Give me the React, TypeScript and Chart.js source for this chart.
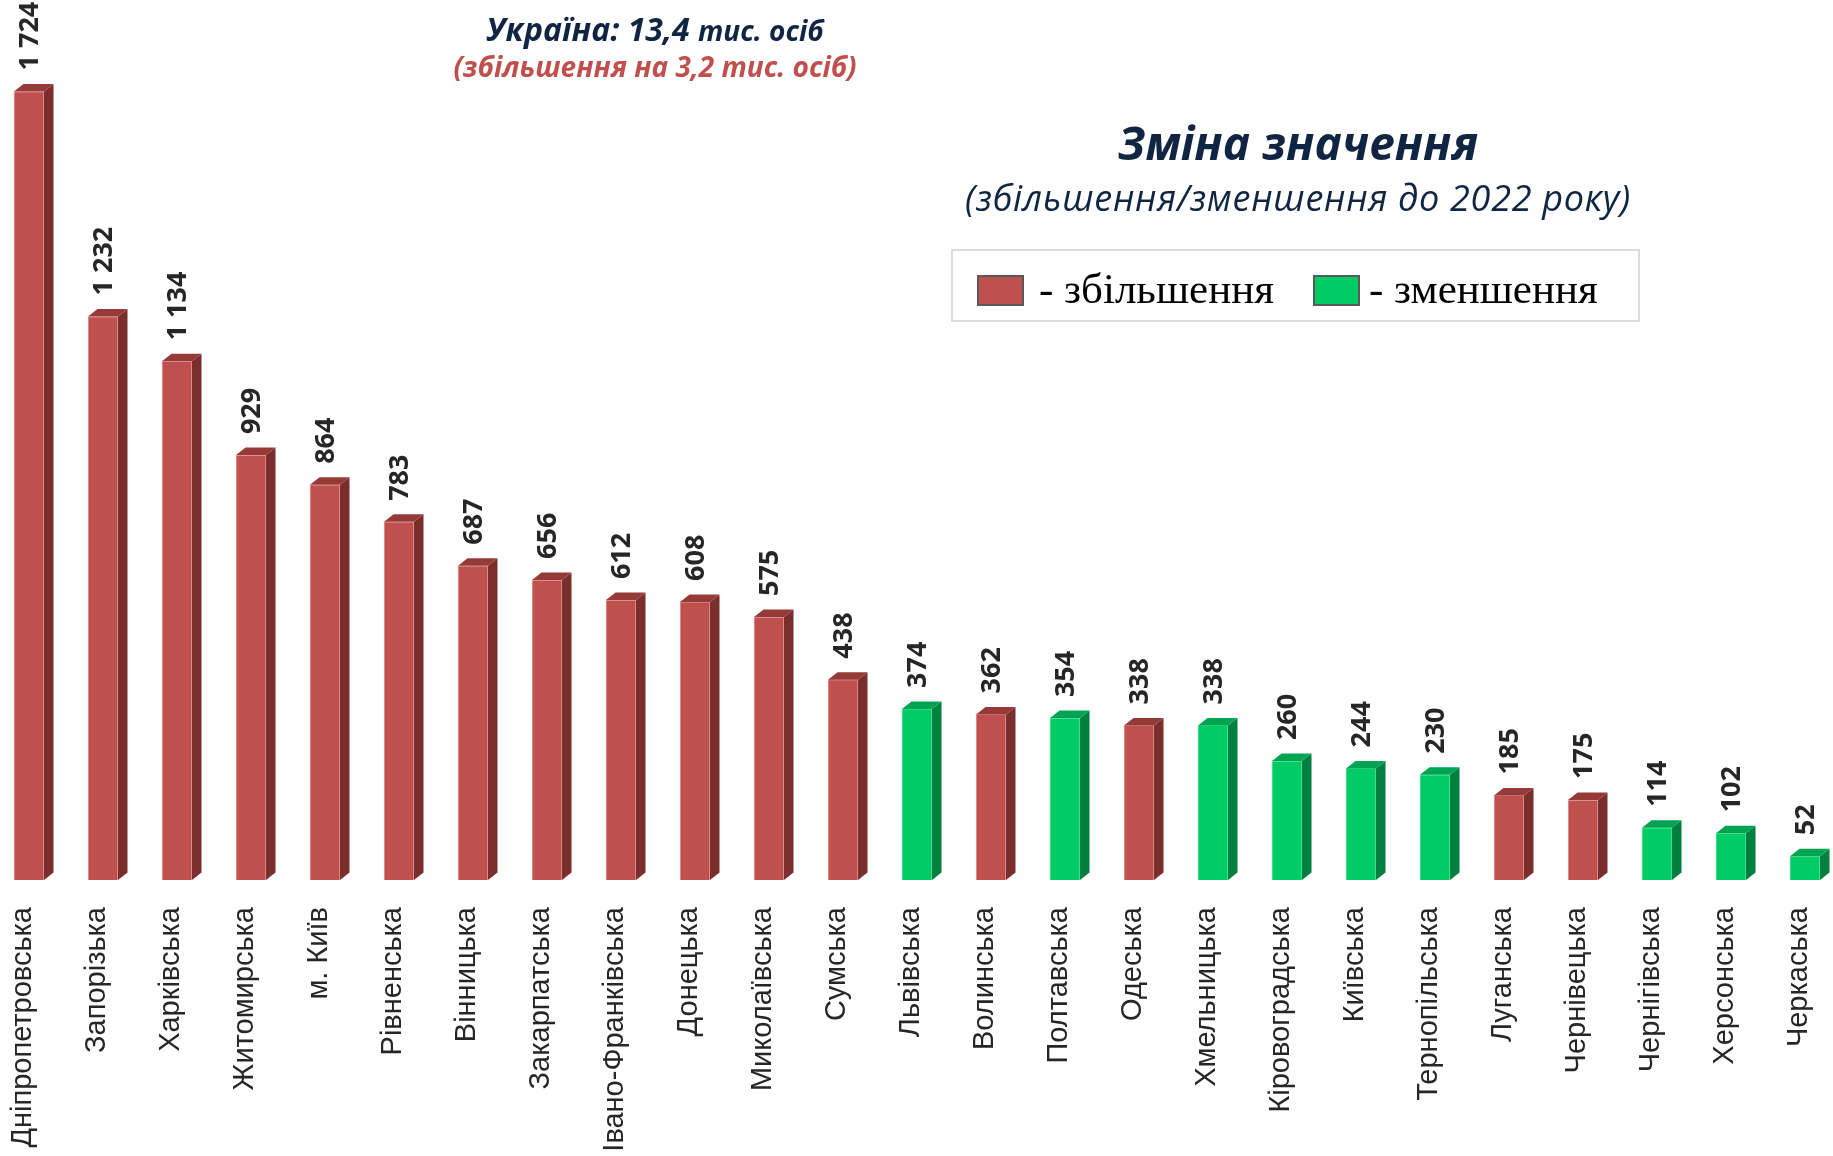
import React, { useEffect, useRef } from 'react';
import { Chart, registerables } from 'chart.js';

Chart.register(...registerables);

const categories = [
  'Дніпропетровська', 'Запорізька', 'Харківська', 'Житомирська', 'м. Київ',
  'Рівненська', 'Вінницька', 'Закарпатська', 'Івано-Франківська', 'Донецька',
  'Миколаївська', 'Сумська', 'Львівська', 'Волинська', 'Полтавська',
  'Одеська', 'Хмельницька', 'Кіровоградська', 'Київська', 'Тернопільська',
  'Луганська', 'Чернівецька', 'Чернігівська', 'Херсонська', 'Черкаська',
];

const values = [
  1724, 1232, 1134, 929, 864,
  783, 687, 656, 612, 608,
  575, 438, 374, 362, 354,
  338, 338, 260, 244, 230,
  185, 175, 114, 102, 52,
];

// 'up' = збільшення, 'down' = зменшення
const directions = [
  'up', 'up', 'up', 'up', 'up',
  'up', 'up', 'up', 'up', 'up',
  'up', 'up', 'down', 'up', 'down',
  'up', 'down', 'down', 'down', 'down',
  'up', 'up', 'down', 'down', 'down',
];

const W = 1833;
const H = 1156;
const PLOT_BOTTOM = 880;

const FRONT: Record<string, string> = { up: '#C0504D', down: '#00CC66' };
const SIDE: Record<string, string> = { up: '#7B2E2D', down: '#00803F' };
const CAP: Record<string, string> = { up: '#963A38', down: '#00A351' };
const EDGE: Record<string, string> = { up: '#E2A7A5', down: '#66E3A3' };

function fmt(v: number): string {
  const s = String(v);
  return s.length > 3 ? s.slice(0, -3) + ' ' + s.slice(-3) : s;
}

const bar3d = {
  id: 'bar3d',
  afterDatasetsDraw(chart: any) {
    const ctx = chart.ctx;
    const meta = chart.getDatasetMeta(0);
    const d = 9.5;
    const dy = 7.5;
    meta.data.forEach((el: any, i: number) => {
      const { x, y, base, width } = el.getProps(['x', 'y', 'base', 'width'], true);
      const L = x - width / 2;
      const R = x + width / 2;
      const dir = directions[i];
      ctx.save();
      ctx.fillStyle = SIDE[dir];
      ctx.beginPath();
      ctx.moveTo(R, y);
      ctx.lineTo(R + d, y - dy);
      ctx.lineTo(R + d, base - dy);
      ctx.lineTo(R, base);
      ctx.closePath();
      ctx.fill();
      ctx.fillStyle = CAP[dir];
      ctx.beginPath();
      ctx.moveTo(L, y);
      ctx.lineTo(L + d, y - dy);
      ctx.lineTo(R + d, y - dy);
      ctx.lineTo(R, y);
      ctx.closePath();
      ctx.fill();
      ctx.translate(x + 1, y - 21);
      ctx.rotate(-Math.PI / 2);
      ctx.font = 'bold 27px "Open Sans"';
      ctx.fillStyle = '#262626';
      ctx.textAlign = 'left';
      ctx.textBaseline = 'middle';
      ctx.fillText(fmt(values[i]), 0, 0);
      ctx.restore();
    });
  },
};

const NAVY = '#0F2542';

export default function App() {
  const ref = useRef<HTMLCanvasElement>(null);

  useEffect(() => {
    if (!ref.current) return;
    const chart = new Chart(ref.current, {
      type: 'bar',
      data: {
        labels: categories,
        datasets: [
          {
            data: values,
            backgroundColor: directions.map((d) => FRONT[d]),
            borderColor: directions.map((d) => EDGE[d]),
            borderWidth: 1,
            barThickness: 30,
            clip: false as any,
          },
        ],
      },
      options: {
        responsive: false,
        animation: false,
        layout: { padding: { left: 29, right: 28, top: 0, bottom: 0 } },
        plugins: {
          legend: { display: false },
          tooltip: { enabled: false },
        },
        scales: {
          x: {
            offset: false,
            grid: { display: false, drawTicks: false },
            border: { display: false },
            ticks: {
              autoSkip: false,
              minRotation: 90,
              maxRotation: 90,
              padding: 27,
              labelOffset: -6,
              color: '#262626',
              font: { family: 'Liberation Sans', size: 29 },
            },
            afterFit: (s: any) => {
              s.height = H - PLOT_BOTTOM;
              s.paddingLeft = 0;
              s.paddingRight = 0;
            },
          },
          y: { display: false, min: 0, max: 1924 },
        },
      },
      plugins: [bar3d],
    });
    return () => chart.destroy();
  }, []);

  const abs = (o: React.CSSProperties): React.CSSProperties => ({ position: 'absolute', whiteSpace: 'nowrap', ...o });

  return (
    <div style={{ position: 'fixed', left: 0, top: 0, width: W, height: H, background: '#fff', overflow: 'hidden' }}>
      <canvas ref={ref} width={W} height={H} style={{ position: 'absolute', left: 0, top: 0, width: W, height: H }} />
      <div style={abs({ left: 655, top: 13, transform: 'translateX(-50%)', fontFamily: '"Open Sans"', fontStyle: 'italic', fontWeight: 700, fontSize: 32, lineHeight: 1, color: NAVY })}>
        Україна: 13,4 <span style={{ fontSize: 28 }}>тис. осіб</span>
      </div>
      <div style={abs({ left: 655, top: 52, transform: 'translateX(-50%)', fontFamily: '"Open Sans"', fontStyle: 'italic', fontWeight: 700, fontSize: 28, lineHeight: 1, color: '#C0504D' })}>
        (збільшення на 3,2 тис. осіб)
      </div>
      <div style={abs({ left: 1298, top: 119, transform: 'translateX(-50%)', fontFamily: '"Open Sans"', fontStyle: 'italic', fontWeight: 700, fontSize: 46, lineHeight: 1, color: NAVY })}>
        Зміна значення
      </div>
      <div style={abs({ left: 1298, top: 180, transform: 'translateX(-50%)', fontFamily: '"Open Sans"', fontStyle: 'italic', fontWeight: 400, fontSize: 36, letterSpacing: 0.7, lineHeight: 1, color: NAVY })}>
        (збільшення/зменшення до 2022 року)
      </div>
      <div style={abs({ left: 951, top: 249, width: 689, height: 73, border: '2px solid #DCDCDC', boxSizing: 'border-box' })} />
      <div style={abs({ left: 977, top: 275, width: 47, height: 31, background: FRONT.up, border: '2px solid #595959', boxSizing: 'border-box' })} />
      <div style={abs({ left: 1039, top: 267, fontFamily: '"Liberation Serif"', fontSize: 43, lineHeight: 1, color: '#000' })}>
        - збільшення
      </div>
      <div style={abs({ left: 1313, top: 275, width: 47, height: 31, background: FRONT.down, border: '2px solid #595959', boxSizing: 'border-box' })} />
      <div style={abs({ left: 1369, top: 267, fontFamily: '"Liberation Serif"', fontSize: 43, lineHeight: 1, color: '#000' })}>
        - зменшення
      </div>
    </div>
  );
}
